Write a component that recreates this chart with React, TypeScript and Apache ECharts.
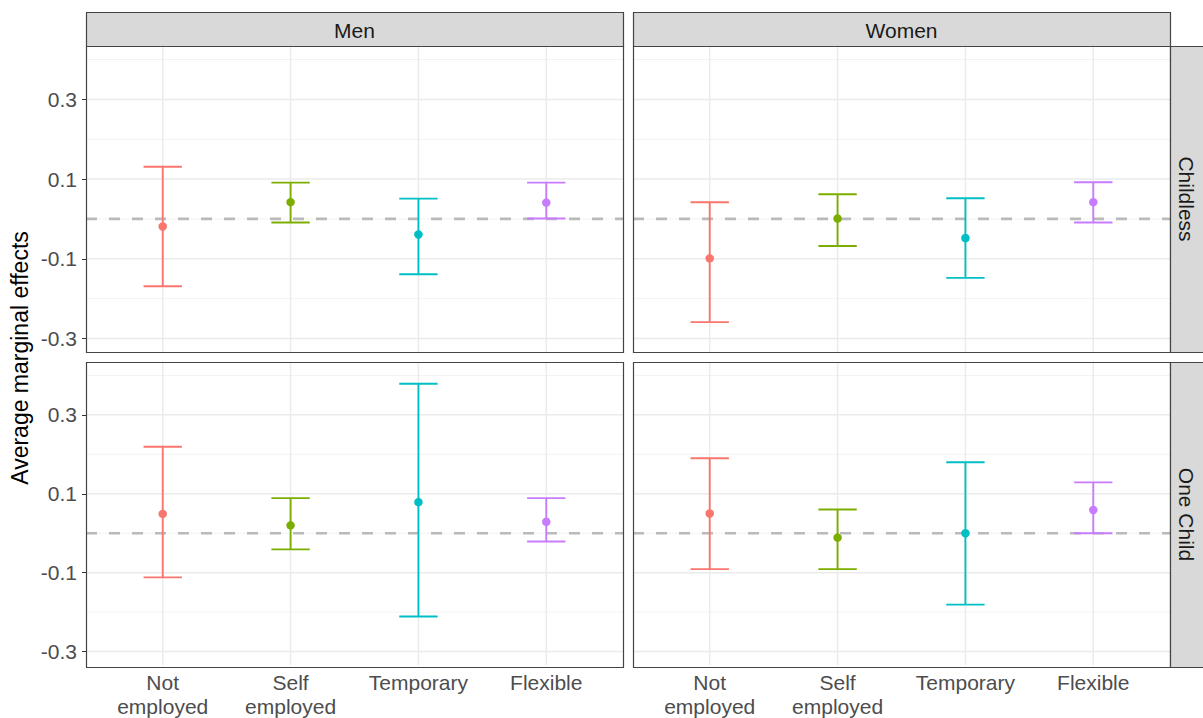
import React, { useEffect, useRef } from 'react';
import * as echarts from 'echarts';

// ---- data ----
const categories = ['Not\nemployed', 'Self\nemployed', 'Temporary', 'Flexible'];
const colors = ['#F8766D', '#7CAE00', '#00BFC4', '#C77CFF'];
const colLabels = ['Men', 'Women'];
const rowLabels = ['Childless', 'One Child'];

const menChildlessEst = [-0.019, 0.042, -0.039, 0.041];
const menChildlessLo = [-0.169, -0.009, -0.139, 0.001];
const menChildlessHi = [0.131, 0.091, 0.051, 0.091];

const womenChildlessEst = [-0.099, 0.001, -0.048, 0.042];
const womenChildlessLo = [-0.259, -0.068, -0.148, -0.009];
const womenChildlessHi = [0.042, 0.062, 0.052, 0.092];

const menOneChildEst = [0.049, 0.02, 0.079, 0.029];
const menOneChildLo = [-0.112, -0.041, -0.211, -0.021];
const menOneChildHi = [0.219, 0.089, 0.379, 0.089];

const womenOneChildEst = [0.05, -0.011, 0.0, 0.059];
const womenOneChildLo = [-0.091, -0.091, -0.181, 0.0];
const womenOneChildHi = [0.19, 0.06, 0.18, 0.129];

const yTicks = [-0.3, -0.1, 0.1, 0.3];
const yMinor = [-0.2, 0, 0.2, 0.4];
const xTicks = [1, 2, 3, 4];
const zeroLine = [0];

const FONT = '"Liberation Sans", Arial, Helvetica, sans-serif';

export default function App() {
  const ref = useRef<HTMLDivElement>(null);
  useEffect(() => {
    document.body.style.margin = '0';
    if (!ref.current) return;
    const chart = echarts.init(ref.current, undefined, { renderer: 'svg' });

    const panels = [
      { est: menChildlessEst, lo: menChildlessLo, hi: menChildlessHi },
      { est: womenChildlessEst, lo: womenChildlessLo, hi: womenChildlessHi },
      { est: menOneChildEst, lo: menOneChildLo, hi: menOneChildHi },
      { est: womenOneChildEst, lo: womenOneChildLo, hi: womenOneChildHi },
    ];
    const rects = [
      { left: 86, top: 46, width: 537, height: 306 },
      { left: 633, top: 46, width: 537, height: 306 },
      { left: 86, top: 362, width: 537, height: 305 },
      { left: 633, top: 362, width: 537, height: 305 },
    ];

    const grid = rects.map((r) => ({ ...r, show: false, containLabel: false }));
    const xAxis = rects.map((r, i) => {
      const bottom = i >= 2;
      return {
        type: 'value',
        gridIndex: i,
        min: 0.4,
        max: 4.6,
        axisLine: { show: false },
        splitLine: { show: false },
        axisTick: { show: bottom, customValues: xTicks, length: 4, lineStyle: { color: '#333', width: 1 } },
        axisLabel: {
          show: bottom,
          customValues: xTicks,
          formatter: (v: number) => categories[Math.round(v) - 1] || '',
          fontSize: 21,
          lineHeight: 24,
          color: '#4d4d4d',
          fontFamily: FONT,
          margin: 5,
        },
      };
    });
    const yAxis = rects.map((r, i) => {
      const left = i % 2 === 0;
      return {
        type: 'value',
        gridIndex: i,
        min: -0.334,
        max: 0.434,
        axisLine: { show: false },
        splitLine: { show: false },
        axisTick: { show: left, customValues: yTicks, length: 4, lineStyle: { color: '#333', width: 1 } },
        axisLabel: {
          show: left,
          customValues: yTicks,
          formatter: (v: number) => v.toFixed(1),
          fontSize: 21,
          color: '#4d4d4d',
          fontFamily: FONT,
          margin: 9,
        },
      };
    });

    const series: any[] = [];
    panels.forEach((p, i) => {
      // grid lines: [kind, value]; kind 0 = horiz major, 1 = horiz minor, 2 = vertical major
      const gl = [
        ...yTicks.map((v) => [0, v]),
        ...yMinor.map((v) => [1, v]),
        ...xTicks.map((v) => [2, v]),
      ];
      series.push({
        type: 'custom',
        xAxisIndex: i,
        yAxisIndex: i,
        z: 1,
        silent: true,
        data: gl,
        encode: { x: [], y: [] },
        renderItem: (params: any, api: any) => {
          const cs = params.coordSys;
          const kind = api.value(0);
          const v = api.value(1);
          if (kind === 2) {
            const x = api.coord([v, 0])[0];
            return {
              type: 'line',
              shape: { x1: x, y1: cs.y, x2: x, y2: cs.y + cs.height },
              style: { stroke: '#ebebeb', lineWidth: 1.5 },
            };
          }
          const y = api.coord([1, v])[1];
          return {
            type: 'line',
            shape: { x1: cs.x, y1: y, x2: cs.x + cs.width, y2: y },
            style: { stroke: kind === 0 ? '#ebebeb' : '#f2f2f2', lineWidth: kind === 0 ? 1.5 : 1 },
          };
        },
      });
      // dashed zero line
      series.push({
        type: 'custom',
        xAxisIndex: i,
        yAxisIndex: i,
        z: 2,
        silent: true,
        data: zeroLine.map((v) => [v]),
        encode: { x: [], y: [] },
        renderItem: (params: any, api: any) => {
          const cs = params.coordSys;
          const y = api.coord([1, api.value(0)])[1];
          return {
            type: 'line',
            shape: { x1: cs.x, y1: y, x2: cs.x + cs.width, y2: y },
            style: { stroke: '#bababa', lineWidth: 2.6, lineDash: [11, 12] },
          };
        },
      });
      // error bars
      series.push({
        type: 'custom',
        xAxisIndex: i,
        yAxisIndex: i,
        z: 3,
        silent: true,
        data: p.est.map((_, k) => [k + 1, p.lo[k], p.hi[k], k]),
        encode: { x: 0, y: [1, 2] },
        renderItem: (params: any, api: any) => {
          const x = api.value(0);
          const lo = api.value(1);
          const hi = api.value(2);
          const c = colors[api.value(3)];
          const pL = api.coord([x - 0.15, hi]);
          const pR = api.coord([x + 0.15, hi]);
          const qL = api.coord([x - 0.15, lo]);
          const qR = api.coord([x + 0.15, lo]);
          const cT = api.coord([x, hi]);
          const cB = api.coord([x, lo]);
          const st = { stroke: c, lineWidth: 1.9 };
          return {
            type: 'group',
            children: [
              { type: 'line', shape: { x1: pL[0], y1: pL[1], x2: pR[0], y2: pR[1] }, style: st },
              { type: 'line', shape: { x1: cT[0], y1: cT[1], x2: cB[0], y2: cB[1] }, style: st },
              { type: 'line', shape: { x1: qL[0], y1: qL[1], x2: qR[0], y2: qR[1] }, style: st },
            ],
          };
        },
      });
      // points
      series.push({
        type: 'scatter',
        xAxisIndex: i,
        yAxisIndex: i,
        z: 4,
        silent: true,
        symbol: 'circle',
        symbolSize: 8.5,
        data: p.est.map((v, k) => ({ value: [k + 1, v], itemStyle: { color: colors[k], opacity: 1 } })),
      });
    });

    const graphic: any[] = [];
    rects.forEach((r) => {
      graphic.push({
        type: 'rect',
        z: 100,
        silent: true,
        shape: { x: r.left + 0.5, y: r.top + 0.5, width: r.width, height: r.height },
        style: { fill: 'none', stroke: '#444', lineWidth: 1.2 },
      });
    });
    // column strips
    [0, 1].forEach((c) => {
      const r = rects[c];
      graphic.push({
        type: 'rect',
        z: 100,
        silent: true,
        shape: { x: r.left + 0.5, y: 12.5, width: r.width, height: r.top - 12 },
        style: { fill: '#d9d9d9', stroke: '#444', lineWidth: 1.2 },
      });
      graphic.push({
        type: 'text',
        z: 101,
        silent: true,
        x: r.left + r.width / 2,
        y: (12 + r.top) / 2 + 1,
        style: {
          text: colLabels[c],
          fontSize: 21,
          fontFamily: FONT,
          fill: '#1a1a1a',
          align: 'center',
          verticalAlign: 'middle',
        },
      });
    });
    // row strips
    [0, 1].forEach((rI) => {
      const r = rects[rI * 2 + 1];
      graphic.push({
        type: 'rect',
        z: 100,
        silent: true,
        shape: { x: r.left + r.width + 0.5, y: r.top + 0.5, width: 40, height: r.height },
        style: { fill: '#d9d9d9', stroke: '#444', lineWidth: 1.2 },
      });
      graphic.push({
        type: 'text',
        z: 101,
        silent: true,
        x: r.left + r.width + 16,
        y: r.top + r.height / 2,
        rotation: -Math.PI / 2,
        style: {
          text: rowLabels[rI],
          fontSize: 21,
          fontFamily: FONT,
          fill: '#1a1a1a',
          align: 'center',
          verticalAlign: 'middle',
        },
      });
    });
    graphic.push({
      type: 'text',
      z: 101,
      silent: true,
      x: 20,
      y: 358,
      rotation: Math.PI / 2,
      style: {
        text: 'Average marginal effects',
        fontSize: 23,
        fontFamily: FONT,
        fill: '#000',
        align: 'center',
        verticalAlign: 'middle',
      },
    });

    chart.setOption({
      animation: false,
      backgroundColor: '#ffffff',
      grid,
      xAxis,
      yAxis,
      series,
      graphic,
    });
    return () => chart.dispose();
  }, []);
  return <div ref={ref} style={{ width: 1203, height: 718 }} />;
}
